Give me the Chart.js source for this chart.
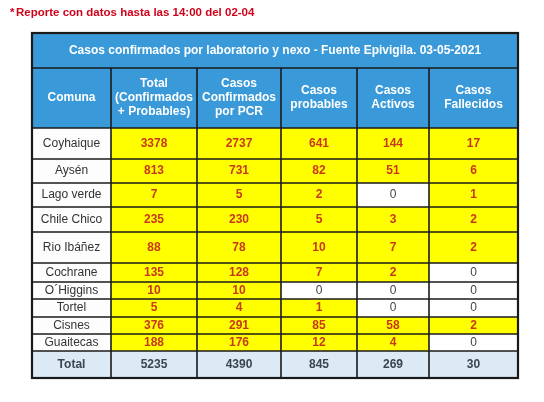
<!DOCTYPE html>
<html><head><meta charset="utf-8">
<script src="https://cdn.jsdelivr.net/npm/chart.js@4"></script>
<style>html,body{margin:0;padding:0;background:#fff}#w{width:544px;height:402px}</style>
</head><body><div id="w"><canvas id="c"></canvas></div>
<script>
const note = "Reporte con datos hasta las 14:00 del 02-04";
const tableTitle = "Casos confirmados por laboratorio y nexo - Fuente Epivigila. 03-05-2021";
const headers = [["Comuna"],["Total","(Confirmados","+ Probables)"],["Casos","Confirmados","por PCR"],["Casos","probables"],["Casos","Activos"],["Casos","Fallecidos"]];
const comunas = ["Coyhaique","Aysén","Lago verde","Chile Chico","Rio Ibáñez","Cochrane","O´Higgins","Tortel","Cisnes","Guaitecas"];
const totalCases = [3378,813,7,235,88,135,10,5,376,188];
const pcrCases = [2737,731,5,230,78,128,10,4,291,176];
const probableCases = [641,82,2,5,10,7,0,1,85,12];
const activeCases = [144,51,0,3,7,2,0,0,58,4];
const deaths = [17,6,1,2,2,0,0,0,2,0];
const totals = [5235,4390,845,269,30];

const colEdges = [32,111,197,281,357,429,518];
const rowEdges = [33,68,128,159,183,207,232,263,282,299,317,334,351,378];
const series = [totalCases,pcrCases,probableCases,activeCases,deaths];

const tablePlugin = {
  id:'table',
  afterDraw(chart){
    const ctx = chart.ctx, xs = chart.scales.x, ys = chart.scales.y;
    const X = v=>xs.getPixelForValue(v), Y = v=>ys.getPixelForValue(v);
    const F = "'Liberation Sans', Arial, sans-serif";
    ctx.save();
    ctx.textBaseline='middle';
    ctx.font = "bold 11.5px "+F; ctx.textAlign='left';
    ctx.fillStyle='#d0021b'; ctx.fillText("*", X(10), Y(13));
    ctx.fillText(note, X(16), Y(13));
    const cell=(c0,c1,r0,r1,bg)=>{ctx.fillStyle=bg;ctx.fillRect(X(c0),Y(r0),X(c1)-X(c0),Y(r1)-Y(r0));};
    cell(colEdges[0],colEdges[6],rowEdges[0],rowEdges[2],'#3a9ad9');
    ctx.fillStyle='#fff'; ctx.textAlign='center'; ctx.font="bold 12px "+F;
    ctx.fillText(tableTitle, X((colEdges[0]+colEdges[6])/2), Y((rowEdges[0]+rowEdges[1])/2));
    headers.forEach((h,i)=>{
      const cx=X((colEdges[i]+colEdges[i+1])/2), cy=Y((rowEdges[1]+rowEdges[2])/2);
      h.forEach((t,k)=>ctx.fillText(t,cx,cy+(k-(h.length-1)/2)*14));
    });
    for(let r=0;r<comunas.length;r++){
      const r0=rowEdges[r+2], r1=rowEdges[r+3], cy=Y((r0+r1)/2);
      cell(colEdges[0],colEdges[1],r0,r1,'#fdfdfd');
      ctx.fillStyle='#333'; ctx.font="12px "+F;
      ctx.fillText(comunas[r], X((colEdges[0]+colEdges[1])/2), cy);
      series.forEach((s,i)=>{
        const v=s[r], cx=X((colEdges[i+1]+colEdges[i+2])/2);
        cell(colEdges[i+1],colEdges[i+2],r0,r1, v>0?'#ffff00':'#ffffff');
        ctx.fillStyle = v>0?'#c8381a':'#444';
        ctx.font = (v>0?"bold ":"")+"12px "+F;
        ctx.fillText(String(v),cx,cy);
      });
    }
    const t0=rowEdges[12], t1=rowEdges[13], ty=Y((t0+t1)/2);
    cell(colEdges[0],colEdges[6],t0,t1,'#dbeaf4');
    ctx.fillStyle='#3a4550'; ctx.font="bold 12px "+F;
    ctx.fillText("Total", X((colEdges[0]+colEdges[1])/2), ty);
    totals.forEach((v,i)=>ctx.fillText(String(v), X((colEdges[i+1]+colEdges[i+2])/2), ty));
    ctx.strokeStyle='#1a1a1a'; ctx.lineWidth=1.6;
    rowEdges.forEach(y=>{ctx.beginPath();ctx.moveTo(X(colEdges[0]),Y(y));ctx.lineTo(X(colEdges[6]),Y(y));ctx.stroke();});
    colEdges.forEach((x,i)=>{const top=(i===0||i===6)?rowEdges[0]:rowEdges[1];ctx.beginPath();ctx.moveTo(X(x),Y(top));ctx.lineTo(X(x),Y(rowEdges[13]));ctx.stroke();});
    ctx.lineWidth=2.2; ctx.strokeRect(X(colEdges[0]),Y(rowEdges[0]),X(colEdges[6])-X(colEdges[0]),Y(rowEdges[13])-Y(rowEdges[0]));
    ctx.restore();
  }
};

new Chart(document.getElementById('c'),{
  type:'scatter',
  data:{datasets:[{data:[]}]},
  options:{
    responsive:true, maintainAspectRatio:false, animation:false,
    layout:{padding:0},
    plugins:{legend:{display:false},tooltip:{enabled:false}},
    scales:{
      x:{type:'linear',min:0,max:544,display:false},
      y:{type:'linear',min:0,max:402,reverse:true,display:false}
    }
  },
  plugins:[tablePlugin]
});
</script></body></html>
